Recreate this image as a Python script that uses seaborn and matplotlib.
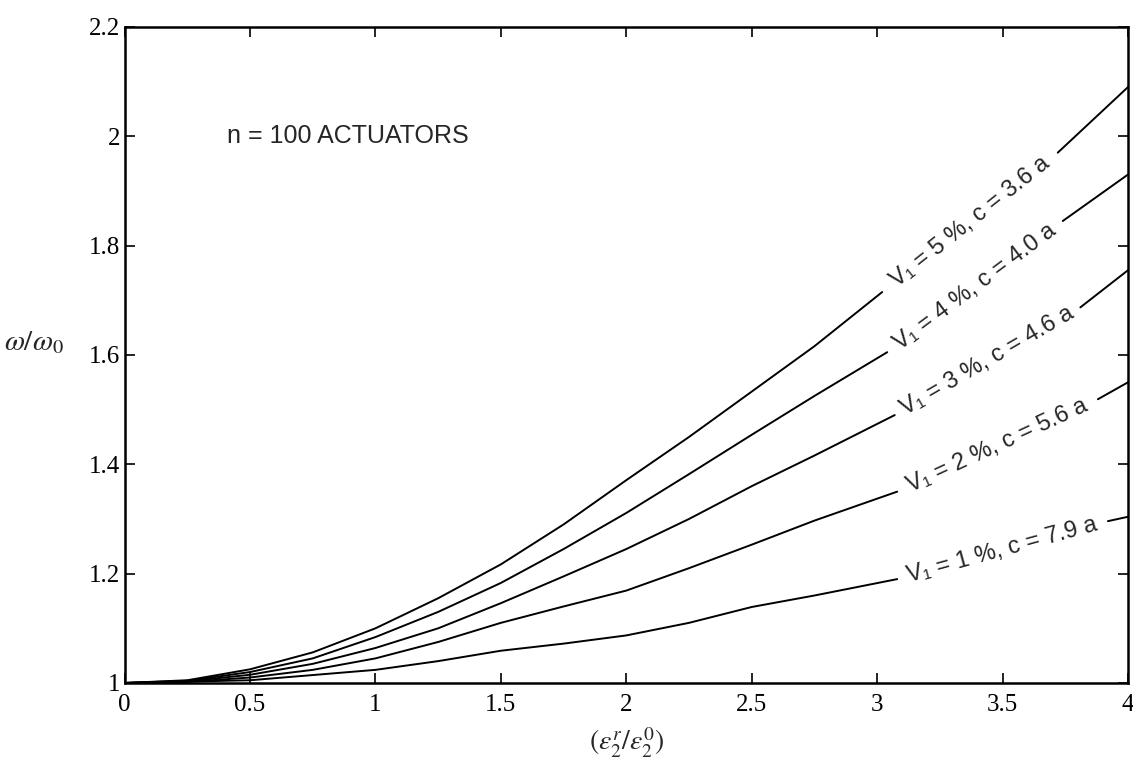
import numpy as np
import pandas as pd
import matplotlib
matplotlib.use("Agg")
import matplotlib.pyplot as plt
import seaborn as sns

# ---- data; NaN marks the break where the label sits ----
x_v5 = [0, 0.25, 0.5, 0.75, 1.0, 1.25, 1.5, 1.75, 2.0, 2.25, 2.5, 2.75, 3.02, np.nan, 3.72, 4.0]
y_v5 = [1.0, 1.005, 1.025, 1.056, 1.10, 1.155, 1.217, 1.29, 1.371, 1.45, 1.533, 1.616, 1.715, np.nan, 1.97, 2.09]

x_v4 = [0, 0.25, 0.5, 0.75, 1.0, 1.25, 1.5, 1.75, 2.0, 2.25, 2.5, 2.75, 3.04, np.nan, 3.74, 4.0]
y_v4 = [1.0, 1.004, 1.02, 1.045, 1.084, 1.13, 1.183, 1.245, 1.311, 1.382, 1.454, 1.525, 1.605, np.nan, 1.845, 1.93]

x_v3 = [0, 0.25, 0.5, 0.75, 1.0, 1.25, 1.5, 1.75, 2.0, 2.25, 2.5, 2.75, 3.07, np.nan, 3.81, 4.0]
y_v3 = [1.0, 1.003, 1.015, 1.035, 1.064, 1.10, 1.146, 1.195, 1.245, 1.30, 1.36, 1.416, 1.49, np.nan, 1.687, 1.755]

x_v2 = [0, 0.25, 0.5, 0.75, 1.0, 1.25, 1.5, 1.75, 2.0, 2.25, 2.5, 2.75, 3.08, np.nan, 3.88, 4.0]
y_v2 = [1.0, 1.002, 1.01, 1.024, 1.045, 1.075, 1.11, 1.14, 1.169, 1.21, 1.253, 1.297, 1.35, np.nan, 1.519, 1.55]

x_v1 = [0, 0.5, 1.0, 1.25, 1.5, 1.75, 2.0, 2.25, 2.5, 2.75, 3.08, np.nan, 3.92, 4.0]
y_v1 = [1.0, 1.005, 1.024, 1.04, 1.059, 1.072, 1.087, 1.11, 1.139, 1.16, 1.19, np.nan, 1.296, 1.304]

series_labels = ["V\u2081 = 5 %, c = 3.6 a",
                 "V\u2081 = 4 %, c = 4.0 a",
                 "V\u2081 = 3 %, c = 4.6 a",
                 "V\u2081 = 2 %, c = 5.6 a",
                 "V\u2081 = 1 %, c = 7.9 a"]

x_ticks = [0, 0.5, 1, 1.5, 2, 2.5, 3, 3.5, 4]
x_ticklabels = ["0", "0.5", "1", "1.5", "2", "2.5", "3", "3.5", "4"]
y_ticks = [1.0, 1.2, 1.4, 1.6, 1.8, 2.0, 2.2]
y_ticklabels = ["1", "1.2", "1.4", "1.6", "1.8", "2", "2.2"]

annotation_text = "n = 100 ACTUATORS"

# ---- build long table ----
all_x = [x_v5, x_v4, x_v3, x_v2, x_v1]
all_y = [y_v5, y_v4, y_v3, y_v2, y_v1]
rows = []
for si, (xs, ys) in enumerate(zip(all_x, all_y)):
    seg = 0
    for xv, yv in zip(xs, ys):
        if np.isnan(xv):
            seg += 1
            continue
        rows.append({"x": xv, "y": yv, "unit": f"{si}_{seg}"})
df = pd.DataFrame(rows)

sns.set_theme(style="ticks")
plt.rcParams["font.family"] = ["Liberation Serif", "DejaVu Serif"]
plt.rcParams["mathtext.fontset"] = "stix"

fig = plt.figure(figsize=(11.33, 7.62), dpi=100)
ax = fig.add_axes([0.110, 0.1037, 0.8856, 0.861])

sns.lineplot(data=df, x="x", y="y", units="unit", estimator=None, sort=False,
             color="black", linewidth=1.4, ax=ax, legend=False)

ax.set_xlim(0, 4)
ax.set_ylim(1, 2.2)
ax.set_xticks(x_ticks)
ax.set_xticklabels(x_ticklabels)
ax.set_yticks(y_ticks)
ax.set_yticklabels(y_ticklabels)
ax.tick_params(direction="in", length=7, width=1.2, top=True, right=True,
               labelsize=18, colors="black")
ax.tick_params(axis="x", pad=8)
ax.tick_params(axis="y", pad=3)
for sp in ax.spines.values():
    sp.set_visible(True)
    sp.set_linewidth(1.8)
    sp.set_color("black")

ax.set_xlabel(r"$(\varepsilon^{r}_{2}/\varepsilon^{0}_{2})$", fontsize=20)
ax.xaxis.set_label_coords(0.5, -0.066)
ax.set_ylabel(r"$\omega/\omega_0$", fontsize=21, rotation=0)
ax.yaxis.set_label_coords(-0.09, 0.498)

sans = ["Liberation Sans", "DejaVu Sans"]
ax.text(0.41, 2.0, annotation_text, fontsize=18, family=sans, ha="left", va="center")

# curve labels placed in the gap of each curve, rotated along it
fig.canvas.draw()
for xs, ys, lab in zip(all_x, all_y, series_labels):
    gi = [i for i, v in enumerate(xs) if np.isnan(v)][0]
    p0 = (xs[gi - 1], ys[gi - 1])
    p1 = (xs[gi + 1], ys[gi + 1])
    d0 = ax.transData.transform(p0)
    d1 = ax.transData.transform(p1)
    ang = np.degrees(np.arctan2(d1[1] - d0[1], d1[0] - d0[0]))
    mx, my = (p0[0] + p1[0]) / 2, (p0[1] + p1[1]) / 2
    ax.text(mx, my, lab, fontsize=17, family=sans, rotation=ang,
            rotation_mode="anchor", ha="center", va="center")

fig.savefig("out.png", dpi=100, facecolor="white")
